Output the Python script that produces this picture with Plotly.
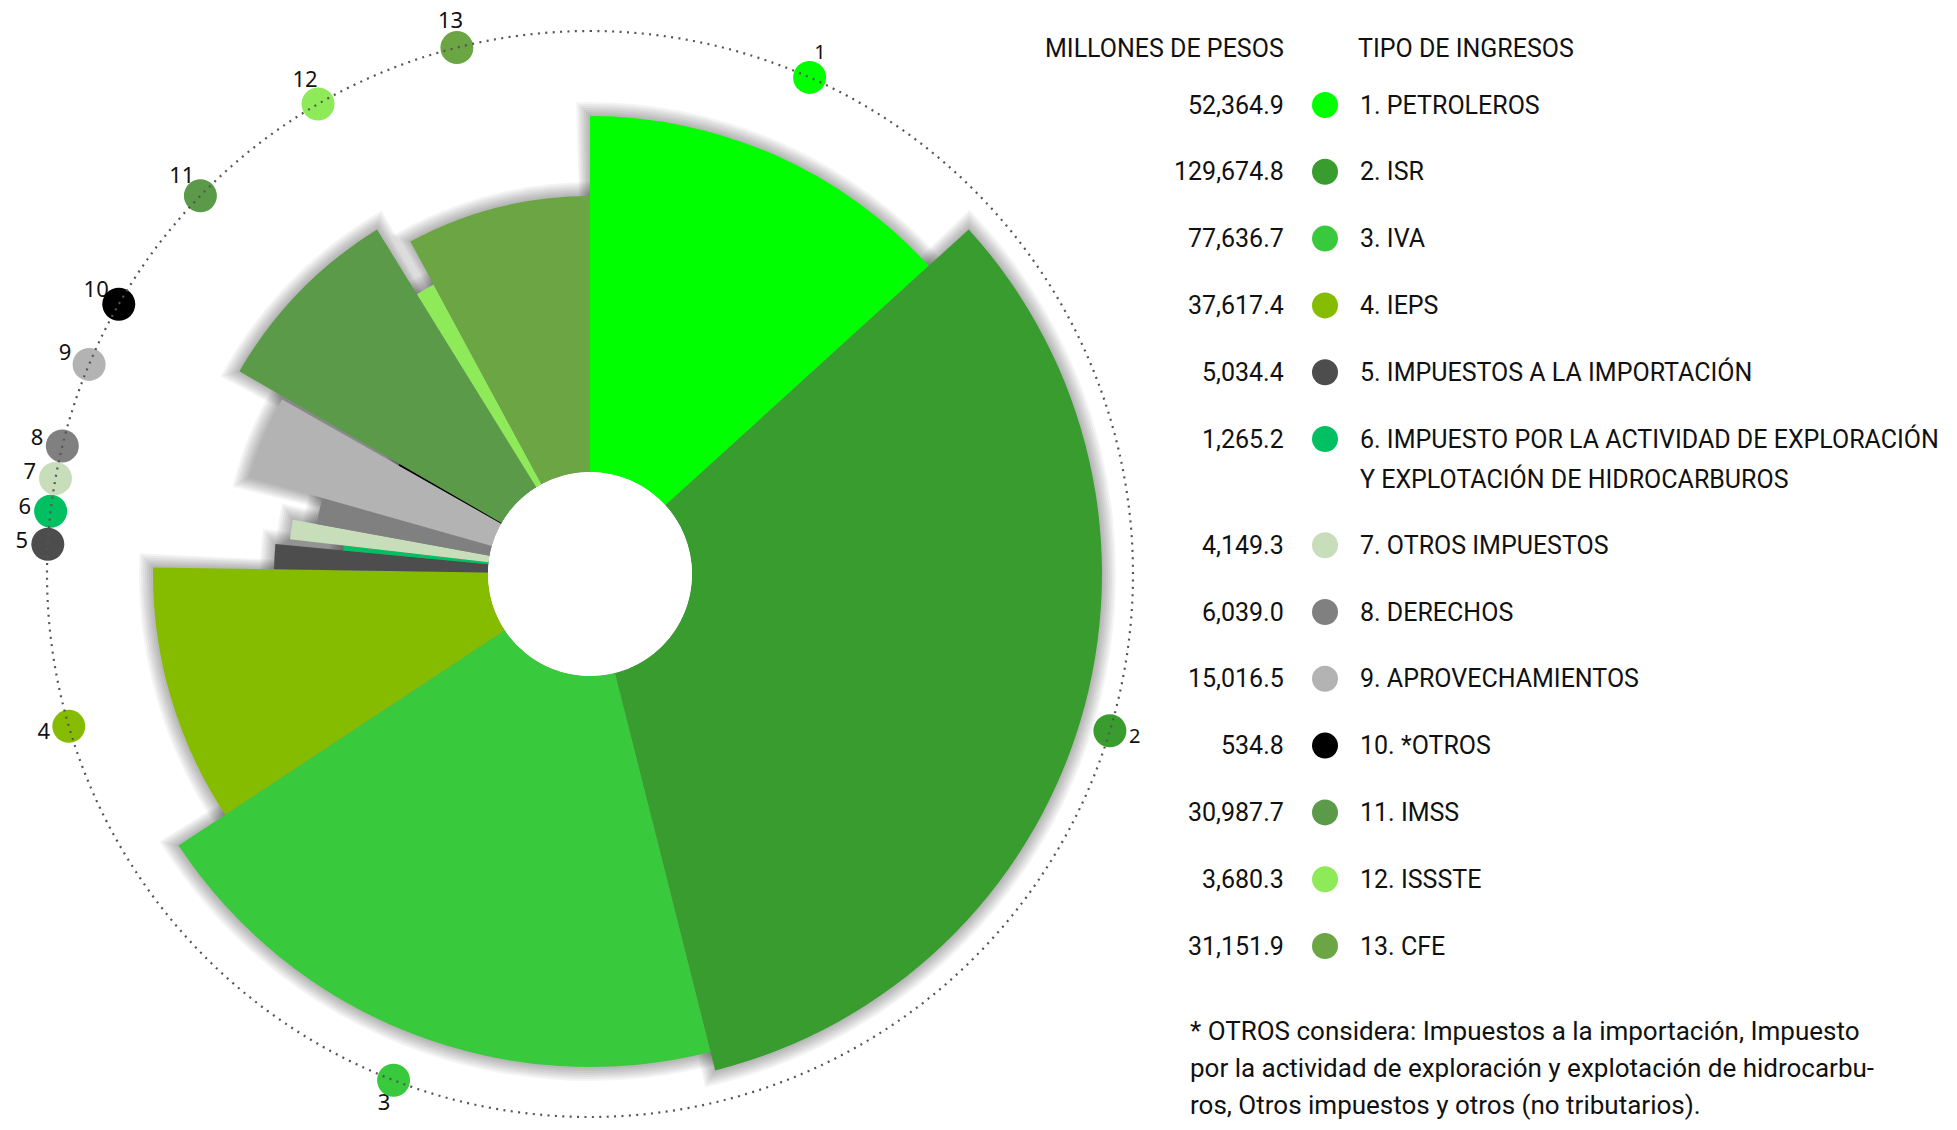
import numpy as np
import plotly.graph_objects as go

# datos
numeros = ['1', '2', '3', '4', '5', '6', '7', '8', '9', '10', '11', '12', '13']
tipos = ['1. PETROLEROS', '2. ISR', '3. IVA', '4. IEPS',
         '5. IMPUESTOS A LA IMPORTACIÓN',
         '6. IMPUESTO POR LA ACTIVIDAD DE EXPLORACIÓN<br>Y EXPLOTACIÓN DE HIDROCARBUROS',
         '7. OTROS IMPUESTOS', '8. DERECHOS', '9. APROVECHAMIENTOS', '10. *OTROS',
         '11. IMSS', '12. ISSSTE', '13. CFE']
millones = [52364.9, 129674.8, 77636.7, 37617.4, 5034.4, 1265.2, 4149.3,
            6039.0, 15016.5, 534.8, 30987.7, 3680.3, 31151.9]
# largo de cada rebanada
radios = [458, 512, 493, 437, 316, 248, 302, 278, 354, 220, 405, 329, 378]
colores = ['#00ff00', '#389c2e', '#39c93c', '#86bc00', '#4d4d4d', '#00c062',
           '#c8ddb9', '#808080', '#b3b3b3', '#000000', '#5a9a48', '#8eea58', '#6ba544']
nota = ['* OTROS considera: Impuestos a la importación, Impuesto',
        'por la actividad de exploración y explotación de hidrocarbu-',
        'ros, Otros impuestos y otros (no tributarios).']

FUENTE = 'Roboto, sans-serif'
W, H, OFF = 1949, 1122, 8      # la página deja 8px de margen
CX, CY = 590 - OFF, 574 - OFF  # centro del círculo en la figura
R_MAX = 556
HUECO = 102
R_CIRC = 543
R_ETIQ = 569


def px(x):
    return (x - OFF) / W


total = sum(millones)
anchos = np.array(millones) / total * 360
centros = np.cumsum(anchos) - anchos / 2

# los puntos del círculo no se enciman
ang_punto = list(centros)
for k in range(1, len(ang_punto)):
    if ang_punto[k] - ang_punto[k - 1] < 3.5:
        ang_punto[k] = ang_punto[k - 1] + 3.5
ang_punto = np.array(ang_punto)
tam_etiqueta = [20, 20] + [22] * 11

fig = go.Figure()

# sombra difusa alrededor de las rebanadas
for d in range(14, 0, -2):
    r_s = np.array(radios) + d
    fig.add_trace(go.Barpolar(
        r=r_s, theta=centros, width=anchos + 2 * np.degrees(d / r_s),
        marker=dict(color='rgba(0,0,0,0.045)', line=dict(width=0)),
        hoverinfo='skip', showlegend=False))

fig.add_trace(go.Barpolar(
    r=radios, theta=centros, width=anchos,
    marker=dict(color=colores, line=dict(width=0)),
    customdata=millones, hovertemplate='%{customdata:,.1f}<extra></extra>',
    showlegend=False))

# puntos sobre el círculo
fig.add_trace(go.Scatterpolar(
    r=[R_CIRC] * len(ang_punto), theta=ang_punto, mode='markers',
    marker=dict(size=33, color=colores, line=dict(width=0)),
    hoverinfo='skip', showlegend=False, cliponaxis=False))

ang = np.linspace(0, 360, 721)
fig.add_trace(go.Scatterpolar(
    r=[R_CIRC] * len(ang), theta=ang, mode='lines',
    line=dict(color='#555555', width=2.2, dash='2px,5.4px'),
    hoverinfo='skip', showlegend=False, cliponaxis=False))

# números fuera del círculo (ejes en píxeles con origen en el centro)
t = np.radians(ang_punto)
fig.add_trace(go.Scatter(
    x=R_ETIQ * np.sin(t), y=R_ETIQ * np.cos(t), mode='text', text=numeros,
    textfont=dict(family='Noto Sans', size=tam_etiqueta, color='#111111'),
    textposition='middle center', cliponaxis=False,
    hoverinfo='skip', showlegend=False, xaxis='x2', yaxis='y2'))

# leyenda a la derecha
filas = [k + (0.59 if k >= 6 else 0) for k in range(len(tipos))]
X_VAL, X_PUNTO, X_TXT = px(1286), px(1325), px(1358)
Y0, PASO = 105 - OFF, 66.8

fig.add_trace(go.Scatter(
    x=[X_PUNTO] * len(filas), y=filas, mode='markers',
    marker=dict(size=26, color=colores, line=dict(width=0)),
    hoverinfo='skip', showlegend=False, xaxis='x', yaxis='y'))

anots = []
txt_font = dict(family=FUENTE, size=25, color='#111111')
anots.append(dict(x=X_VAL, y=-0.84, text='MILLONES DE PESOS', xanchor='right'))
anots.append(dict(x=px(1356), y=-0.84, text='TIPO DE INGRESOS', xanchor='left'))
for k, (v, tp) in enumerate(zip(millones, tipos)):
    anots.append(dict(x=X_VAL, y=filas[k], text=f'{v:,.1f}', xanchor='right'))
    for j, ln in enumerate(tp.split('<br>')):
        anots.append(dict(x=X_TXT, y=filas[k] + 0.6 * j, text=ln, xanchor='left'))
for j, ln in enumerate(nota):
    anots.append(dict(x=px(1188), y=13.86 + 0.555 * j, text=ln, xanchor='left',
                      font=dict(family=FUENTE, size=26, color='#111111')))
for a in anots:
    a.setdefault('font', txt_font)
    a.update(xref='paper', yref='y', yanchor='middle', showarrow=False)

fig.update_layout(
    width=W, height=H,
    margin=dict(l=0, r=0, t=0, b=0),
    paper_bgcolor='white', plot_bgcolor='rgba(0,0,0,0)',
    polar=dict(
        domain=dict(x=[px(590 - R_MAX), px(590 + R_MAX)],
                    y=[0, 1 - (CY - R_MAX) / H]),
        hole=HUECO / R_MAX,
        bgcolor='rgba(0,0,0,0)',
        barmode='overlay', bargap=0,
        radialaxis=dict(range=[HUECO, R_MAX], visible=False),
        angularaxis=dict(rotation=90, direction='clockwise', visible=False),
    ),
    xaxis=dict(range=[0, 1], domain=[0, 1], visible=False, fixedrange=True),
    yaxis=dict(range=[(H - Y0) / PASO, -Y0 / PASO], domain=[0, 1],
               visible=False, fixedrange=True),
    xaxis2=dict(range=[-CX, W - CX], domain=[0, 1], anchor='y2',
                visible=False, fixedrange=True),
    yaxis2=dict(range=[-(H - CY), CY], domain=[0, 1], anchor='x2',
                visible=False, fixedrange=True),
    annotations=anots,
)

fig.write_html('out.html')
